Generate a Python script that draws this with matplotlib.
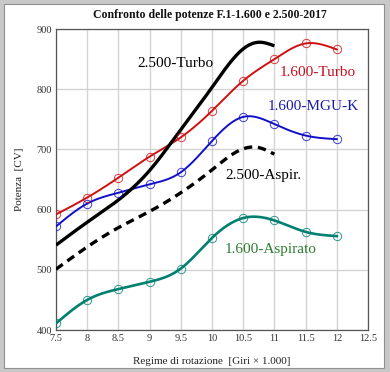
import numpy as np
import matplotlib
matplotlib.use("Agg")
import matplotlib.pyplot as plt
from matplotlib.patches import Rectangle

# ---- data ----
rpm = [7.5, 8.0, 8.5, 9.0, 9.5, 10.0, 10.5, 11.0, 11.5, 12.0]
turbo_16 = [592, 620, 653, 688, 720, 764, 814, 850, 876, 866]
mguk_16 = [572, 610, 628, 642, 662, 714, 754, 742, 723, 717]
aspirato_16 = [411, 450, 468, 480, 502, 553, 586, 582, 563, 556]

rpm_25 = [7.5, 8.0, 8.5, 9.0, 9.5, 10.0, 10.5, 10.75, 11.0]
turbo_25 = [541, 579, 616, 665, 733, 803, 867, 878, 872]
rpm_25a = [7.5, 8.0, 8.5, 9.0, 9.5, 10.0, 10.5, 10.75, 11.0]
aspir_25 = [501, 538, 570, 597, 628, 666, 701, 703, 692]

x_ticks = [7.5, 8, 8.5, 9, 9.5, 10, 10.5, 11, 11.5, 12, 12.5]
x_ticklabels = ["7.5", "8", "8.5", "9", "9.5", "10", "10.5", "11", "11.5", "12", "12.5"]
y_ticks = [400, 500, 600, 700, 800, 900]

title = "Confronto delle potenze F.1-1.600 e 2.500-2017"
xlabel = "Regime di rotazione  [Giri × 1.000]"
ylabel = "Potenza  [CV]"


def spline(x, y, n=300):
    x = np.asarray(x, float)
    y = np.asarray(y, float)
    m = len(x)
    h = np.diff(x)
    A = np.zeros((m, m))
    b = np.zeros(m)
    A[0, 0] = 1
    A[-1, -1] = 1
    for i in range(1, m - 1):
        A[i, i - 1] = h[i - 1]
        A[i, i] = 2 * (h[i - 1] + h[i])
        A[i, i + 1] = h[i]
        b[i] = 6 * ((y[i + 1] - y[i]) / h[i] - (y[i] - y[i - 1]) / h[i - 1])
    M = np.linalg.solve(A, b)
    xs = np.linspace(x[0], x[-1], n)
    idx = np.clip(np.searchsorted(x, xs) - 1, 0, m - 2)
    x0, x1 = x[idx], x[idx + 1]
    hh = x1 - x0
    t0 = x1 - xs
    t1 = xs - x0
    ys = (M[idx] * t0 ** 3 / (6 * hh) + M[idx + 1] * t1 ** 3 / (6 * hh)
          + (y[idx] / hh - M[idx] * hh / 6) * t0
          + (y[idx + 1] / hh - M[idx + 1] * hh / 6) * t1)
    return xs, ys


serif = ["Liberation Serif", "DejaVu Serif"]
plt.rcParams["font.family"] = serif

fig = plt.figure(figsize=(3.9, 3.72), dpi=100)
fig.patch.set_facecolor("white")
# outer frame
fig.patches.append(Rectangle((0, 0), 1, 1, transform=fig.transFigure,
                             facecolor="#c8c8c8", edgecolor="none", zorder=-10))
fig.patches.append(Rectangle((4 / 390, 4 / 372), 380 / 390, 364 / 372,
                             transform=fig.transFigure, facecolor="white",
                             edgecolor="#909090", linewidth=0.8, zorder=-9))

ax = fig.add_axes([56 / 390, 1 - 330 / 372, 312 / 390, 301 / 372])
ax.set_xlim(7.5, 12.5)
ax.set_ylim(400, 900)
ax.set_xticks(x_ticks)
ax.set_xticklabels(x_ticklabels)
ax.set_yticks(y_ticks)
ax.tick_params(length=0, labelsize=7.5, colors="#333333", pad=3)
ax.grid(True, color="#d4d4d4", linewidth=1.0)
ax.set_axisbelow(True)
for s in ax.spines.values():
    s.set_color("#555555")
    s.set_linewidth(0.9)

red = "#d01010"
blue = "#1010c8"
teal = "#008070"

for xs_, ys_, col, lw in [(rpm, turbo_16, red, 1.4), (rpm, mguk_16, blue, 1.4),
                          (rpm, aspirato_16, teal, 1.9)]:
    sx, sy = spline(xs_, ys_)
    ax.plot(sx, sy, color=col, lw=lw, zorder=3)
    ax.plot(xs_, ys_, linestyle="none", marker="o", markersize=6,
            markerfacecolor="none", markeredgecolor=col, markeredgewidth=0.7,
            alpha=0.8, zorder=4)

sx, sy = spline(rpm_25, turbo_25)
ax.plot(sx, sy, color="black", lw=2.4, zorder=3, solid_capstyle="butt")
sx, sy = spline(rpm_25a, aspir_25)
ax.plot(sx, sy, color="black", lw=2.4, zorder=3, dashes=(2.5, 1.7))

fs = 11
ax.text(8.81, 843, "2.500-Turbo", color="black", fontsize=fs, va="center", ha="left")
ax.text(11.09, 827, "1.600-Turbo", color="#c81020", fontsize=fs, va="center", ha="left")
ax.text(10.9, 772, "1.600-MGU-K", color="#1a1aa8", fontsize=fs, va="center", ha="left")
ax.text(10.21, 656, "2.500-Aspir.", color="black", fontsize=fs, va="center", ha="left")
ax.text(10.21, 533, "1.600-Aspirato", color="#2e7d32", fontsize=fs, va="center", ha="left")

fig.text(209.5 / 390, 1 - 15 / 372, title, ha="center", va="center",
         fontsize=8.5, fontweight="bold", color="#111111")
fig.text(212 / 390, 1 - 361 / 372, xlabel, ha="center", va="center",
         fontsize=8, color="#222222")
fig.text(20 / 390, 1 - 179 / 372, ylabel, ha="center", va="center",
         fontsize=8, color="#222222", rotation=90)

fig.savefig("out.png", dpi=100)
